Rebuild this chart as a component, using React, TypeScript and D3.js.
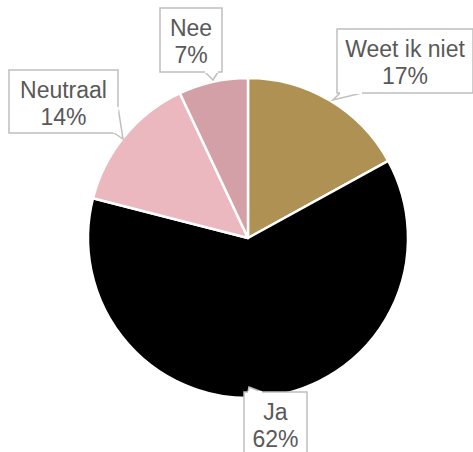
import React from "react";
import * as d3 from "d3";

const categories = ["Weet ik niet", "Ja", "Neutraal", "Nee"];
const values = [17, 62, 14, 7];
const colors = ["#AE9153", "#000000", "#EBB8BF", "#D4A0A7"];

// callout layout: box rect and pointer (base points + tip)
const callouts = [
  { x: 337, y: 29, w: 136, h: 64, base: [[362, 93], [340, 93]], tip: [333, 100] },
  { x: 244, y: 392, w: 63, h: 70, base: [[248, 392], [262, 392]], tip: [249, 387] },
  { x: 9, y: 70, w: 109, h: 63, base: [[118, 107], [114, 133]], tip: [123, 139] },
  { x: 160, y: 8, w: 62, h: 64, base: [[205, 72], [218, 72]], tip: [213, 80] },
];

export default function App() {
  const W = 473, H = 452;
  const cx = 248, cy = 238, r = 160;
  const pie = d3.pie<number>().sort(null).value((d) => d);
  const arcs = pie(values);
  const arc = d3.arc<d3.PieArcDatum<number>>().innerRadius(0).outerRadius(r);

  const calloutPath = (c: typeof callouts[number]) => {
    const p = d3.path();
    p.rect(c.x, c.y, c.w, c.h);
    return p.toString();
  };

  return (
    <svg width={W} height={H} style={{ position: "absolute", left: 0, top: 0, background: "#fff" }}>
      <g transform={`translate(${cx},${cy})`}>
        {arcs.map((a, i) => (
          <path key={i} d={arc(a) || ""} fill={colors[i]} stroke="#fff" strokeWidth={2.5} strokeLinejoin="round" />
        ))}
      </g>
      {callouts.map((c, i) => {
        const pct = Math.round((values[i] / d3.sum(values)) * 100);
        const tcx = c.x + c.w / 2;
        return (
          <g key={i}>
            <path d={calloutPath(c)} fill="#fff" stroke="#BFBFBF" strokeWidth={1.5} />
            <path
              d={`M${c.base[0][0]},${c.base[0][1]}L${c.tip[0]},${c.tip[1]}L${c.base[1][0]},${c.base[1][1]}`}
              fill="#fff"
              stroke="#BFBFBF"
              strokeWidth={1.5}
            />
            <line x1={c.base[0][0]} y1={c.base[0][1]} x2={c.base[1][0]} y2={c.base[1][1]} stroke="#fff" strokeWidth={2} />
            <text
              x={tcx}
              textAnchor="middle"
              fontFamily="'Liberation Sans', Arial, sans-serif"
              fontSize={23}
              fill="#595959"
            >
              <tspan x={tcx} y={c.y + 28}>{categories[i]}</tspan>
              <tspan x={tcx} y={c.y + 55}>{pct}%</tspan>
            </text>
          </g>
        );
      })}
    </svg>
  );
}
